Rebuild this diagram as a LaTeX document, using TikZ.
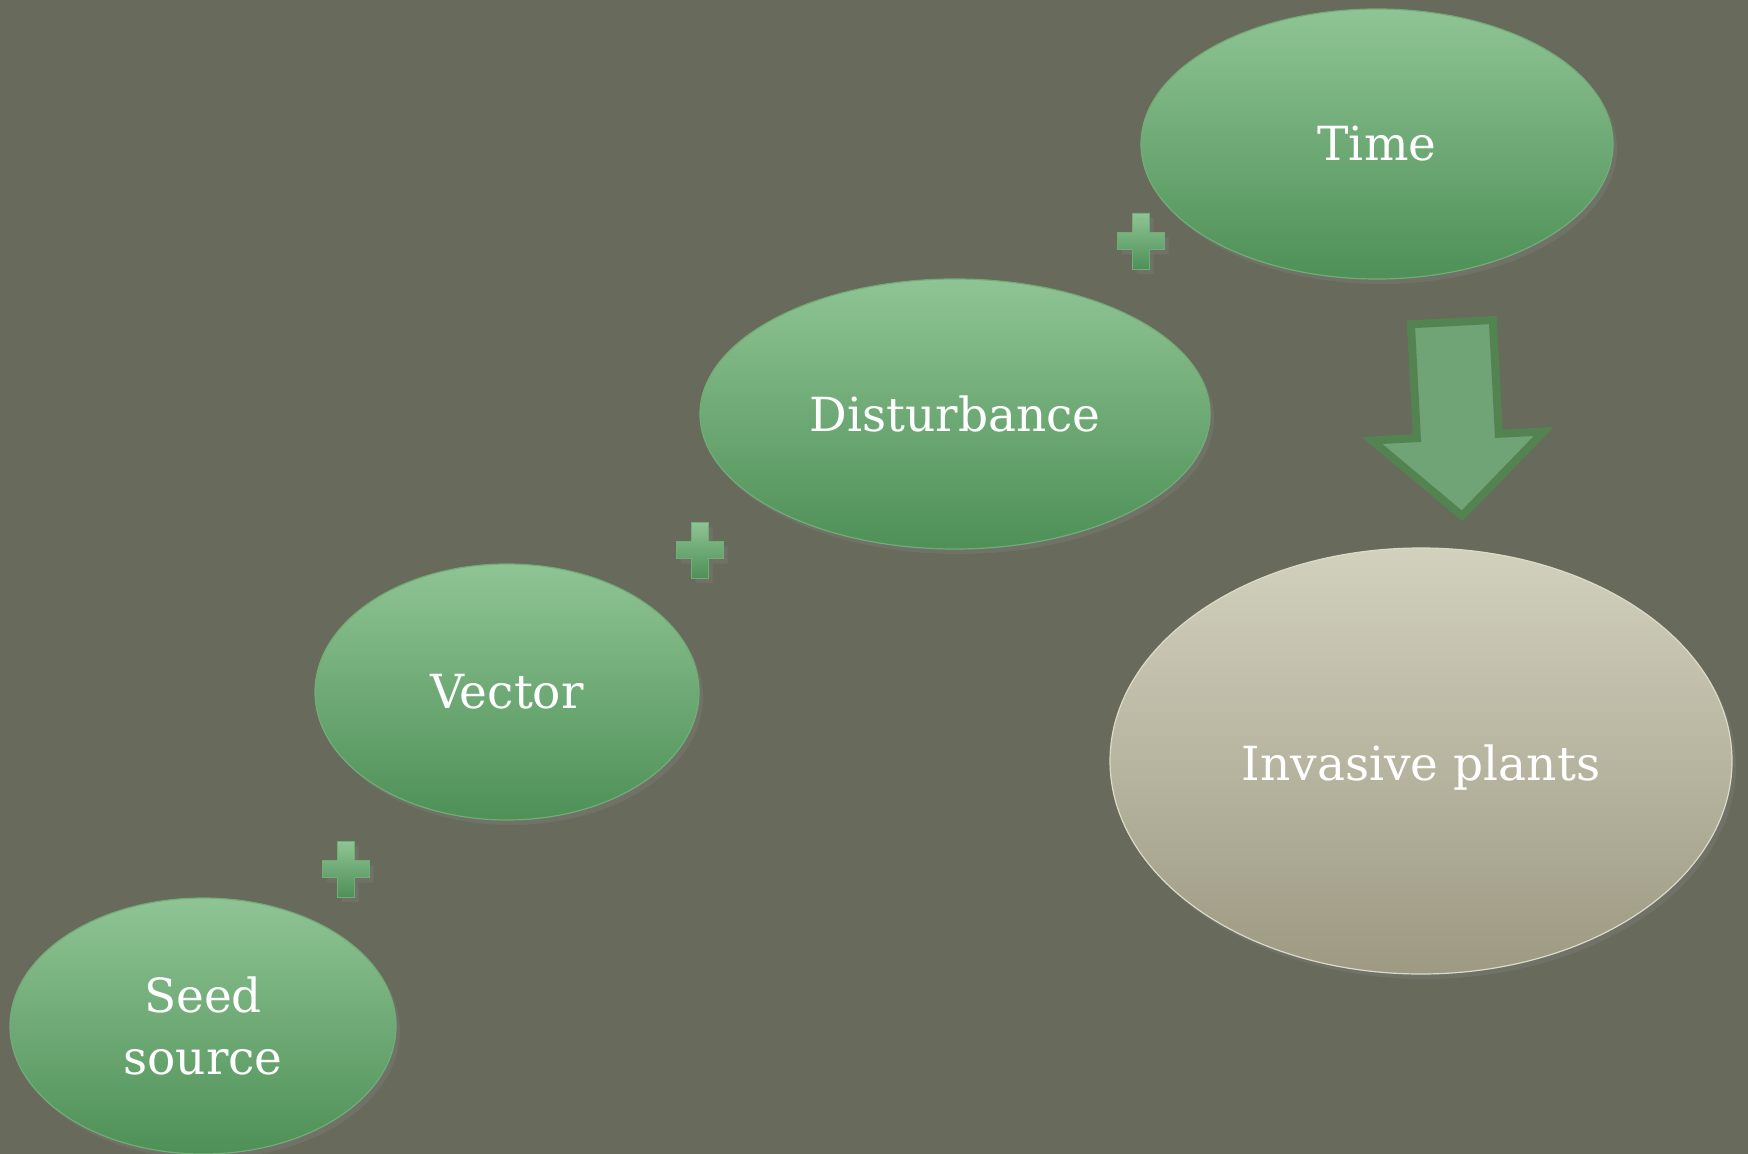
\documentclass[tikz,border=0pt]{standalone}
\usepackage{fontspec}
\setmainfont{DejaVu Serif}
\usetikzlibrary{shapes.geometric,shadows}
\definecolor{bgcol}{HTML}{686A5B}
\definecolor{gtop}{HTML}{8FC494}
\definecolor{gbot}{HTML}{4E9057}
\definecolor{gedge}{HTML}{72AD77}
\definecolor{itop}{HTML}{D2D1BD}
\definecolor{ibot}{HTML}{9D9983}
\definecolor{iedge}{HTML}{DCDBC8}
\definecolor{arfill}{HTML}{70A375}
\definecolor{ardraw}{HTML}{548352}
\tikzset{
  shade/.style={drop shadow={opacity=0.35,shadow xshift=2pt,shadow yshift=-2.5pt}},
  greenoval/.style={ellipse,inner sep=0pt,top color=gtop,bottom color=gbot,draw=gedge,line width=0.6pt,
     shade,text=white,font=\fontsize{23.5}{31}\selectfont,align=center},
  greyoval/.style={ellipse,inner sep=0pt,top color=itop,bottom color=ibot,draw=iedge,line width=0.6pt,
     shade,text=white,font=\fontsize{23.5}{31}\selectfont,align=center},
  plusmark/.style={top color=gtop,bottom color=gbot,draw=gedge,line width=0.4pt,shade},
  bigarrow/.style={fill=arfill,draw=ardraw,line width=4pt,line join=miter}
}
\newcommand{\plusat}[2]{%
  \path[plusmark] (#1-8.5,#2-28) -- (#1+8.5,#2-28) -- (#1+8.5,#2-8.5) -- (#1+23.5,#2-8.5)
   -- (#1+23.5,#2+8.5) -- (#1+8.5,#2+8.5) -- (#1+8.5,#2+28) -- (#1-8.5,#2+28)
   -- (#1-8.5,#2+8.5) -- (#1-23.5,#2+8.5) -- (#1-23.5,#2-8.5) -- (#1-8.5,#2-8.5) -- cycle;}
\begin{document}
\begin{tikzpicture}[x=0.5pt,y=-0.5pt]
\fill[bgcol] (0,0) rectangle (1748,1154);
\useasboundingbox (0,0) rectangle (1748,1154);
\begin{scope}
\clip (0,0) rectangle (1748,1154);
\node[greenoval,minimum width=236pt,minimum height=135pt] (time) at (1377,144) {Time};
\node[greenoval,minimum width=255pt,minimum height=135pt] (dist) at (955,414) {Disturbance};
\node[greenoval,minimum width=192pt,minimum height=128pt] (vec) at (507,692) {Vector};
\node[greenoval,minimum width=193pt,minimum height=128pt] (seed) at (203,1026) {Seed\\source};
\node[greyoval,minimum width=311pt,minimum height=213pt] (inv) at (1421,761) {};
\node[text=white,font=\fontsize{23.5}{31}\selectfont] (invtext) at (1421,768) {Invasive plants};
\plusat{1141}{241}
\plusat{700}{550}
\plusat{346}{869}
\begin{scope}[rotate around={3:(1457,420)}]
\path[bigarrow] (1416,322) -- (1498,322) -- (1498,436) -- (1543,436) -- (1457,516)
  -- (1371,436) -- (1416,436) -- cycle;
\end{scope}
\end{scope}
\end{tikzpicture}
\end{document}
